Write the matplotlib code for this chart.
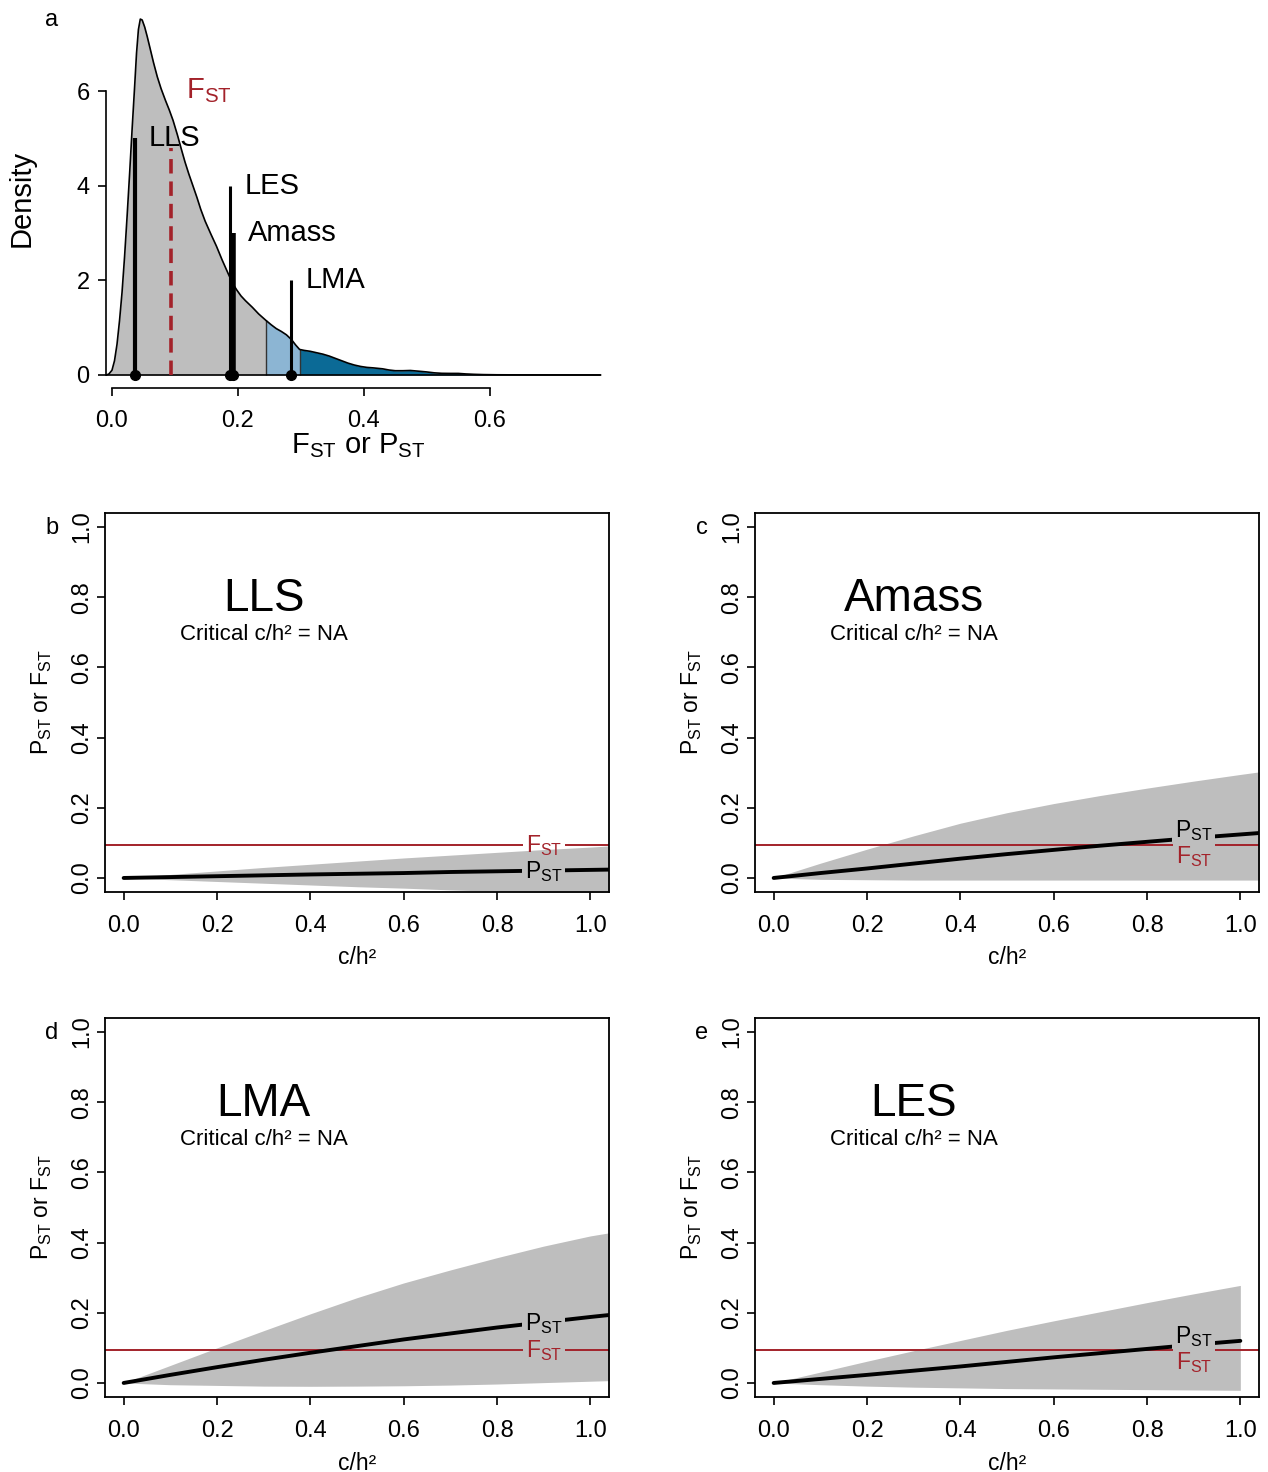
import matplotlib
matplotlib.use('Agg')
import matplotlib.pyplot as plt
import numpy as np
from matplotlib.path import Path
from matplotlib.transforms import IdentityTransform

plt.rcParams['font.family'] = ['Liberation Sans', 'DejaVu Sans']
plt.rcParams['mathtext.fontset'] = 'custom'
plt.rcParams['mathtext.rm'] = 'Liberation Sans'
plt.rcParams['mathtext.it'] = 'Liberation Sans:italic'
plt.rcParams['mathtext.bf'] = 'Liberation Sans:bold'

# ---------------- data: panel a ----------------
dens_x = [-0.009, -0.005, 0.0, 0.004, 0.008, 0.012, 0.016, 0.02, 0.024, 0.028,
          0.032, 0.036, 0.039, 0.042, 0.045, 0.048, 0.052, 0.056, 0.06, 0.066,
          0.072, 0.078, 0.085, 0.091, 0.097, 0.104, 0.11, 0.116, 0.122, 0.128,
          0.135, 0.141, 0.148, 0.157, 0.166, 0.175, 0.185, 0.192, 0.198, 0.205,
          0.212, 0.223, 0.233, 0.244, 0.253, 0.261, 0.269, 0.277, 0.285, 0.292,
          0.298, 0.305, 0.315, 0.325, 0.335, 0.345, 0.355, 0.365, 0.375, 0.385,
          0.395, 0.405, 0.415, 0.43, 0.44, 0.45, 0.462, 0.474, 0.487, 0.5,
          0.512, 0.524, 0.537, 0.55, 0.562, 0.575, 0.59, 0.612, 0.65, 0.7, 0.776]
dens_y = [0.0, 0.02, 0.1, 0.3, 0.65, 1.15, 1.75, 2.5, 3.35, 4.25,
          5.2, 6.1, 6.8, 7.3, 7.52, 7.5, 7.35, 7.15, 6.93, 6.6,
          6.3, 6.05, 5.8, 5.6, 5.38, 5.07, 4.78, 4.5, 4.25, 4.02,
          3.75, 3.5, 3.25, 2.98, 2.72, 2.43, 2.13, 1.93, 1.8, 1.67,
          1.57, 1.43, 1.29, 1.16, 1.06, 0.98, 0.92, 0.85, 0.75, 0.63,
          0.54, 0.52, 0.5, 0.47, 0.44, 0.4, 0.35, 0.3, 0.25, 0.21,
          0.18, 0.16, 0.15, 0.13, 0.105, 0.09, 0.09, 0.095, 0.08, 0.064,
          0.045, 0.035, 0.033, 0.033, 0.022, 0.014, 0.008, 0.004, 0.002, 0.001, 0.0]
q_light = 0.244   # start of light-blue tail
q_dark = 0.298    # start of dark-blue tail
fst_value = 0.094
fst_bar_height = 4.8
traits = ['LLS', 'LES', 'Amass', 'LMA']
trait_pst = [0.036, 0.188, 0.193, 0.285]
trait_bar_height = [5, 4, 3, 2]

# ---------------- data: panels b-e ----------------
ch2 = [0.0, 0.1, 0.2, 0.3, 0.4, 0.5, 0.6, 0.7, 0.8, 0.9, 1.0, 1.05]
ch2_les = [0.0, 0.1, 0.2, 0.3, 0.4, 0.5, 0.6, 0.7, 0.8, 0.9, 1.0]

lls_pst = [0.0, 0.0025, 0.005, 0.0075, 0.010, 0.012, 0.014, 0.017, 0.019, 0.021, 0.023, 0.024]
lls_upper = [0.0, 0.010, 0.020, 0.030, 0.039, 0.048, 0.057, 0.065, 0.073, 0.081, 0.088, 0.092]
lls_lower = [0.0, -0.005, -0.010, -0.015, -0.020, -0.025, -0.029, -0.034, -0.038, -0.042, -0.046, -0.048]

amass_pst = [0.0, 0.014, 0.027, 0.041, 0.055, 0.068, 0.080, 0.092, 0.103, 0.114, 0.124, 0.129]
amass_upper = [0.0, 0.042, 0.082, 0.120, 0.156, 0.186, 0.212, 0.235, 0.256, 0.276, 0.295, 0.304]
amass_lower = [0.0, -0.004, -0.005, -0.006, -0.006, -0.006, -0.006, -0.006, -0.006, -0.006, -0.006, -0.006]

lma_pst = [0.0, 0.023, 0.045, 0.066, 0.086, 0.105, 0.124, 0.141, 0.158, 0.173, 0.188, 0.195]
lma_upper = [0.0, 0.050, 0.100, 0.149, 0.197, 0.243, 0.285, 0.322, 0.357, 0.390, 0.419, 0.430]
lma_lower = [0.0, -0.005, -0.007, -0.009, -0.0095, -0.009, -0.008, -0.006, -0.003, 0.001, 0.005, 0.007]

les_pst = [0.0, 0.0115, 0.023, 0.035, 0.047, 0.060, 0.073, 0.085, 0.097, 0.109, 0.120]
les_upper = [0.0, 0.031, 0.062, 0.092, 0.121, 0.150, 0.177, 0.203, 0.229, 0.254, 0.278]
les_lower = [0.0, -0.005, -0.009, -0.012, -0.014, -0.016, -0.017, -0.018, -0.019, -0.020, -0.021]

panel_titles = ['LLS', 'Amass', 'LMA', 'LES']
panel_letters = ['b', 'c', 'd', 'e']
critical_text = 'Critical c/h\u00b2 = NA'
tick_vals = [0.0, 0.2, 0.4, 0.6, 0.8, 1.0]
tick_labels = ['0.0', '0.2', '0.4', '0.6', '0.8', '1.0']

# ---------------- style ----------------
RED = '#A3222A'
GRAY = '#BEBEBE'
LIGHTBLUE = '#8CB5D3'
DARKBLUE = '#0B6A96'
W, H = 1268, 1472

fig = plt.figure(figsize=(W / 100, H / 100), dpi=100)


def px_axes(l, t, r, b):
    return fig.add_axes([l / W, 1 - b / H, (r - l) / W, (b - t) / H])


def fig_text(x, y, s, **kw):
    return fig.text(x / W, 1 - y / H, s, **kw)


FST = r'$\mathregular{F_{ST}}$'
PST = r'$\mathregular{P_{ST}}$'

# ================= panel a =================
axa = px_axes(106, 15, 603, 388)
axa.set_xlim(-0.0095, 0.78)
axa.set_ylim(-0.275, 7.606)
dx = np.array(dens_x)
dy = np.array(dens_y)
axa.fill_between(dx, 0, dy, where=dx <= q_light, color=GRAY, lw=0)
axa.fill_between(dx, 0, dy, where=(dx >= q_light) & (dx <= q_dark), color=LIGHTBLUE, lw=0)
axa.fill_between(dx, 0, dy, where=dx >= q_dark, color=DARKBLUE, lw=0)
for q in (q_light, q_dark):
    i = int(np.argmin(np.abs(dx - q)))
    axa.vlines(dx[i], 0, dy[i], colors='#333333', lw=1.0)
axa.plot(dx, dy, color='k', lw=1.2)
axa.plot([dx[0], dx[-1]], [0, 0], color='k', lw=1.2)
axa.vlines(fst_value, 0, fst_bar_height, colors=RED, lw=2.6, linestyles=(0, (4, 2.2)))
bar_widths = [3.0, 2.2, 4.0, 2.2]
for xv, hv, lw, name in zip(trait_pst, trait_bar_height, bar_widths, traits):
    axa.vlines(xv, 0, hv, colors='k', lw=lw)
    axa.text(xv + 0.023, hv, name, fontsize=21, ha='left', va='center')
axa.plot(trait_pst, [0] * len(trait_pst), 'o', color='k', ms=7, clip_on=False, zorder=5)
axa.text(fst_value + 0.023, 6.0, FST, color=RED, fontsize=21, ha='left', va='center')

for s in ('top', 'right'):
    axa.spines[s].set_visible(False)
axa.spines['left'].set_bounds(0, 6)
axa.spines['bottom'].set_bounds(0, 0.6)
axa.spines['left'].set_linewidth(1.2)
axa.spines['bottom'].set_linewidth(1.2)
axa.set_xticks([0, 0.2, 0.4, 0.6])
axa.set_xticklabels(['0.0', '0.2', '0.4', '0.6'])
axa.set_yticks([0, 2, 4, 6])
axa.set_yticklabels(['0', '2', '4', '6'])
axa.tick_params(direction='out', length=5.8, width=1.2, labelsize=17)
axa.tick_params(axis='x', pad=10)
axa.tick_params(axis='y', pad=6)
fig_text(22, 198, 'Density', rotation=90, fontsize=21, ha='center', va='center')
fig_text(358, 446, FST + ' or ' + PST, fontsize=21, ha='center', va='center')
fig_text(52, 20, 'a', fontsize=17, ha='center', va='center')

# ================= panels b-e =================
boxes = [(105, 513, 609, 892), (755, 513, 1259, 892),
         (105, 1018, 609, 1397), (755, 1018, 1259, 1397)]
xs = [ch2, ch2, ch2, ch2_les]
psts = [lls_pst, amass_pst, lma_pst, les_pst]
uppers = [lls_upper, amass_upper, lma_upper, les_upper]
lowers = [lls_lower, amass_lower, lma_lower, les_lower]
# label vertical positions (P_ST label, F_ST label)
label_y = [(0.019, 0.093), (0.135, 0.062), (0.170, 0.093), (0.131, 0.059)]

gap_jobs = []
for k in range(4):
    l, t, r, b = boxes[k]
    ax = px_axes(l, t, r, b)
    ax.set_xlim(-0.04, 1.04)
    ax.set_ylim(-0.04, 1.04)
    ax.fill_between(xs[k], lowers[k], uppers[k], color=GRAY, lw=0)
    fline = ax.axhline(fst_value, color=RED, lw=1.4)
    pline, = ax.plot(xs[k], psts[k], color='k', lw=2.8, solid_capstyle='round')
    pt = ax.text(0.9, label_y[k][0], PST, fontsize=16.5, ha='center', va='center')
    ft = ax.text(0.9, label_y[k][1], FST, fontsize=16.5, ha='center', va='center', color=RED)
    gap_jobs.append((ax, pline, pt))
    gap_jobs.append((ax, fline, ft))
    ax.text(0.3, 0.795, panel_titles[k], fontsize=33, ha='center', va='center')
    ax.text(0.3, 0.693, critical_text, fontsize=16, ha='center', va='center')
    ax.set_xticks(tick_vals)
    ax.set_xticklabels(tick_labels)
    ax.set_yticks(tick_vals)
    ax.set_yticklabels(tick_labels)
    ax.tick_params(direction='out', length=5.8, width=1.2, labelsize=17)
    ax.tick_params(axis='x', pad=11)
    ax.tick_params(axis='y', pad=3, labelrotation=90)
    for lab in ax.get_yticklabels():
        lab.set_va('center')
    for s in ax.spines.values():
        s.set_linewidth(1.3)
    ax.text(-63 / 504, 0.5, PST + ' or ' + FST, transform=ax.transAxes, rotation=90,
            fontsize=16.5, ha='center', va='center')
    ax.text(0.5, -66 / 379, 'c/h\u00b2', transform=ax.transAxes, fontsize=16.5,
            ha='center', va='center')
    fig_text(l - 53, t + 15, panel_letters[k], fontsize=17, ha='center', va='center')

# break lines where their labels sit
fig.canvas.draw()
renderer = fig.canvas.get_renderer()
for ax, line, txt in gap_jobs:
    ab = ax.bbox
    tb = txt.get_window_extent(renderer)
    g0, g1 = tb.x0 - 3, tb.x1 + 3
    verts = [(ab.x0, ab.y0), (g0, ab.y0), (g0, ab.y1), (ab.x0, ab.y1), (ab.x0, ab.y0),
             (g1, ab.y0), (ab.x1, ab.y0), (ab.x1, ab.y1), (g1, ab.y1), (g1, ab.y0)]
    codes = [Path.MOVETO, Path.LINETO, Path.LINETO, Path.LINETO, Path.CLOSEPOLY] * 2
    line.set_clip_path(Path(verts, codes), IdentityTransform())

fig.savefig('out.png', dpi=100)
